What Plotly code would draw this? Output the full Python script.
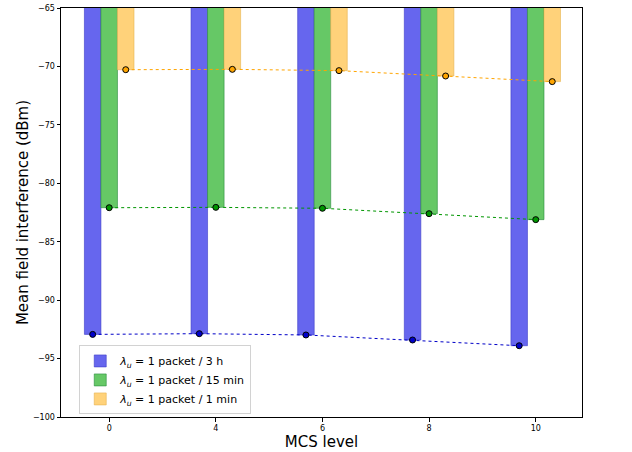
import plotly.graph_objects as go

mcs_labels = ["0", "4", "6", "8", "10"]
series_names = [
    "<i>λ</i><sub><i>u</i></sub> = 1 packet / 3 h",
    "<i>λ</i><sub><i>u</i></sub> = 1 packet / 15 min",
    "<i>λ</i><sub><i>u</i></sub> = 1 packet / 1 min",
]
vals_3h = [-92.93, -92.87, -92.98, -93.41, -93.90]
vals_15min = [-82.09, -82.06, -82.14, -82.60, -83.11]
vals_1min = [-70.28, -70.25, -70.36, -70.82, -71.30]

bar_colors = ["rgb(102,102,238)", "rgb(102,200,102)", "rgb(255,210,122)"]
edge_colors = ["rgb(60,60,200)", "rgb(40,140,60)", "rgb(230,180,80)"]
marker_colors = ["rgb(0,0,200)", "rgb(0,150,0)", "rgb(255,165,0)"]
offsets = [-0.155, 0.0, 0.155]
width = 0.155

fig = go.Figure()
idx = list(range(len(mcs_labels)))
all_vals = [vals_3h, vals_15min, vals_1min]
for k, vals in enumerate(all_vals):
    xs = [i + offsets[k] for i in idx]
    fig.add_trace(go.Bar(
        x=xs, y=vals, width=width, name=series_names[k],
        marker=dict(color=bar_colors[k], line=dict(color=edge_colors[k], width=0.6)),
        showlegend=True,
    ))
for k, vals in enumerate(all_vals):
    xs = [i + offsets[k] for i in idx]
    fig.add_trace(go.Scatter(
        x=xs, y=vals, mode="lines+markers", showlegend=False,
        line=dict(color=marker_colors[k], width=1, dash="dot"),
        marker=dict(color=marker_colors[k], size=6, line=dict(color="black", width=1)),
    ))

fig.update_layout(
    width=632, height=452,
    margin=dict(l=61, r=50, t=8, b=35),
    plot_bgcolor="white", paper_bgcolor="white",
    barmode="overlay",
    font=dict(family="DejaVu Sans", color="black"),
    legend=dict(
        x=0.035, y=0.175, xanchor="left", yanchor="top",
        bgcolor="rgba(255,255,255,0.8)", bordercolor="rgb(210,210,210)", borderwidth=1,
        font=dict(size=11), itemwidth=30, tracegroupgap=0,
    ),
)
fig.update_xaxes(
    range=[-0.452, 4.434], tickmode="array", tickvals=idx, ticktext=mcs_labels,
    showgrid=False, zeroline=False, showline=True, linecolor="black", linewidth=1, mirror=True,
    ticks="outside", ticklen=3.5, tickcolor="black", tickfont=dict(size=8),
    automargin=False,
    title=dict(text="MCS level", font=dict(size=15), standoff=2),
)
fig.update_yaxes(
    range=[-100, -65], tickmode="array", tickvals=[-100, -95, -90, -85, -80, -75, -70, -65],
    ticktext=["\u2212100", "\u221295", "\u221290", "\u221285", "\u221280", "\u221275", "\u221270", "\u221265"],
    showgrid=False, zeroline=False, showline=True, linecolor="black", linewidth=1, mirror=True,
    ticks="outside", ticklen=3.5, tickcolor="black", tickfont=dict(size=8),
    automargin=False,
    title=dict(text="Mean field interference (dBm)", font=dict(size=15), standoff=0),
)

fig.write_html("out.html", config={"displayModeBar": False},
               post_script="document.body.style.margin='0';document.body.style.overflow='hidden';")
